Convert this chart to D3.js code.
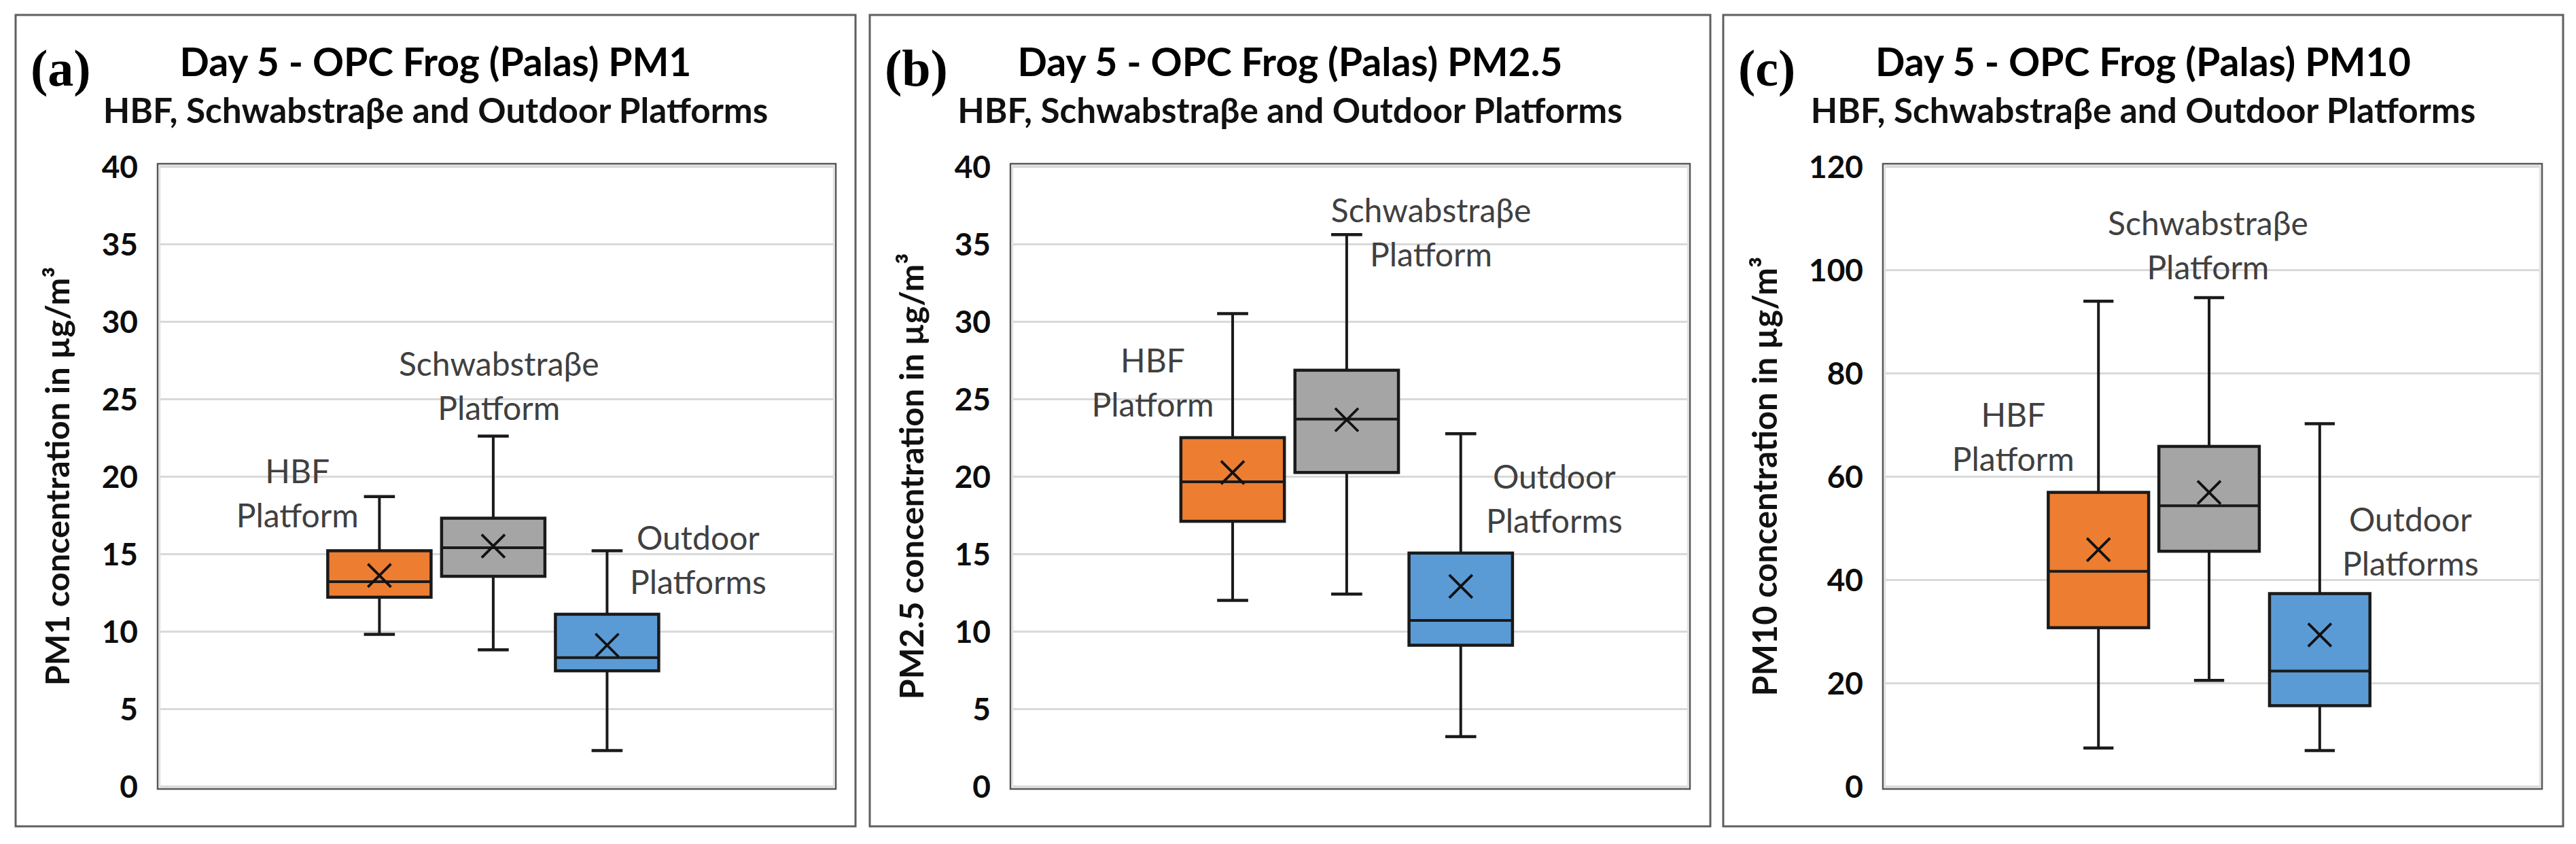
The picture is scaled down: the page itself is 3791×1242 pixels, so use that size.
<!DOCTYPE html>
<html><head><meta charset="utf-8">
<script src="https://cdn.jsdelivr.net/npm/d3@7/dist/d3.min.js"></script>
<style>body{margin:0;background:#fff} svg{display:block}</style>
</head><body>
<svg id="chart" width="3791" height="1242"></svg>
<script>
// ---------- data ----------
const categories = ["HBF Platform", "Schwabstraβe Platform", "Outdoor Platforms"];
const seriesColors = ["#ED7D31", "#A5A5A5", "#5B9BD5"];

const pm1Min    = [9.8, 8.8, 2.3];
const pm1Q1     = [12.2, 13.55, 7.45];
const pm1Median = [13.2, 15.4, 8.3];
const pm1Q3     = [15.2, 17.3, 11.1];
const pm1Max    = [18.7, 22.6, 15.2];
const pm1Mean   = [13.6, 15.5, 9.1];

const pm25Min    = [12.0, 12.4, 3.2];
const pm25Q1     = [17.1, 20.25, 9.1];
const pm25Median = [19.65, 23.7, 10.7];
const pm25Q3     = [22.5, 26.85, 15.05];
const pm25Max    = [30.5, 35.6, 22.75];
const pm25Mean   = [20.25, 23.65, 12.9];

const pm10Min    = [7.4, 20.5, 6.9];
const pm10Q1     = [30.7, 45.5, 15.6];
const pm10Median = [41.6, 54.3, 22.3];
const pm10Q3     = [56.9, 65.8, 37.3];
const pm10Max    = [93.9, 94.6, 70.2];
const pm10Mean   = [45.8, 56.9, 29.3];

const panelLetters = ["(a)", "(b)", "(c)"];
const panelTitles = ["Day 5 - OPC Frog (Palas) PM1", "Day 5 - OPC Frog (Palas) PM2.5", "Day 5 - OPC Frog (Palas) PM10"];
const panelSubtitle = "HBF, Schwabstraβe and Outdoor Platforms";
const yAxisTitles = ["PM1 concentration in µg/m³", "PM2.5 concentration in µg/m³", "PM10 concentration in µg/m³"];
const yTicksPM1  = [0, 5, 10, 15, 20, 25, 30, 35, 40];
const yTicksPM25 = [0, 5, 10, 15, 20, 25, 30, 35, 40];
const yTicksPM10 = [0, 20, 40, 60, 80, 100, 120];
const annotationLines = [["HBF", "Platform"], ["Schwabstraβe", "Platform"], ["Outdoor", "Platforms"]];

// annotation anchors (value of first text baseline, and x offset in band steps)
const pm1LabelValue  = [19.56, 26.5, 15.26];
const pm25LabelValue = [26.7, 36.4, 19.2];
const pm10LabelValue = [69.6, 106.7, 49.3];
const pm1LabelShift  = [-0.72, 0.05, 0.80];
const pm25LabelShift = [-0.70, 0.74, 0.82];
const pm10LabelShift = [-0.77, -0.01, 0.82];

// ---------- layout ----------
const frameY0 = 22, frameY1 = 1216;
const plotY0 = 241, plotY1 = 1161;
const panels = [
  {frame:[23,1259],  plot:[232,1230],  yMax:40,  ticks:yTicksPM1,
   min:pm1Min, q1:pm1Q1, med:pm1Median, q3:pm1Q3, max:pm1Max, mean:pm1Mean,
   lv:pm1LabelValue, ls:pm1LabelShift, titleW:753, yTitleW:617},
  {frame:[1280,2517],plot:[1487,2487], yMax:40,  ticks:yTicksPM25,
   min:pm25Min, q1:pm25Q1, med:pm25Median, q3:pm25Q3, max:pm25Max, mean:pm25Mean,
   lv:pm25LabelValue, ls:pm25LabelShift, titleW:802, yTitleW:657},
  {frame:[2536,3772],plot:[2771,3741], yMax:120, ticks:yTicksPM10,
   min:pm10Min, q1:pm10Q1, med:pm10Median, q3:pm10Q3, max:pm10Max, mean:pm10Mean,
   lv:pm10LabelValue, ls:pm10LabelShift, titleW:788, yTitleW:647}
];

const svg = d3.select("#chart");
const FONT = "Lato, 'Open Sans', 'DejaVu Sans', sans-serif";

function fit(sel, target) {
  const w = sel.node().getComputedTextLength();
  const fs = parseFloat(sel.attr("font-size"));
  if (w > 0) sel.attr("font-size", fs * target / w);
}

panels.forEach((p, pi) => {
  const g = svg.append("g");
  const [fx0, fx1] = p.frame;
  const [px0, px1] = p.plot;
  const cx = (fx0 + fx1) / 2;

  // outer frame
  g.append("rect").attr("x", fx0).attr("y", frameY0)
    .attr("width", fx1 - fx0).attr("height", frameY1 - frameY0)
    .attr("fill", "#fff").attr("stroke", "#5f5f5f").attr("stroke-width", 3);

  // panel letter
  g.append("text").attr("x", fx0 + 22).attr("y", 126)
    .attr("font-family", "'Liberation Serif', 'Times New Roman', serif")
    .attr("font-weight", "bold").attr("font-size", 76).attr("fill", "#000")
    .text(panelLetters[pi]);

  // titles
  const t = g.append("text").attr("x", cx).attr("y", 112).attr("text-anchor", "middle")
    .attr("font-family", FONT).attr("font-weight", "bold").attr("font-size", 54)
    .attr("fill", "#000").text(panelTitles[pi]);
  fit(t, p.titleW);
  const st = g.append("text").attr("x", cx).attr("y", 181).attr("text-anchor", "middle")
    .attr("font-family", FONT).attr("font-weight", "bold").attr("font-size", 44)
    .attr("fill", "#111").text(panelSubtitle);
  fit(st, 979);

  // scales
  const y = d3.scaleLinear().domain([0, p.yMax]).range([plotY1 - 4, plotY0 + 4]);
  const x = d3.scaleBand().domain(categories).range([px0, px1])
    .paddingInner(0.0925).paddingOuter(1.525).align(0.49);

  // plot area border
  g.append("rect").attr("x", px0).attr("y", plotY0).attr("width", px1 - px0)
    .attr("height", plotY1 - plotY0).attr("fill", "#fff")
    .attr("stroke", "#555").attr("stroke-width", 2.5);
  g.append("rect").attr("x", px0 + 3).attr("y", plotY0 + 3).attr("width", px1 - px0 - 6)
    .attr("height", plotY1 - plotY0 - 6).attr("fill", "none")
    .attr("stroke", "#e2e2e2").attr("stroke-width", 2.5);

  // gridlines
  const grid = g.append("g").attr("transform", `translate(${px0 + 4},0)`)
    .call(d3.axisLeft(y).tickValues(p.ticks).tickSize(-(px1 - px0 - 8)).tickFormat(""));
  grid.select(".domain").remove();
  grid.selectAll("line").attr("stroke", "#d9d9d9").attr("stroke-width", 3);

  // y axis labels
  const ax = g.append("g").attr("transform", `translate(${px0 - 29},0)`)
    .call(d3.axisLeft(y).tickValues(p.ticks).tickSize(0).tickPadding(0));
  ax.select(".domain").remove();
  ax.selectAll("text").attr("font-family", FONT).attr("font-weight", "bold")
    .attr("font-size", 46).attr("fill", "#0d0d0d").attr("dy", "0.36em");

  // y axis title
  const yt = g.append("text")
    .attr("transform", `translate(${fx0 + 79},${(plotY0 + plotY1) / 2}) rotate(-90)`)
    .attr("text-anchor", "middle").attr("font-family", FONT).attr("font-weight", "bold")
    .attr("font-size", 44).attr("fill", "#111").text(yAxisTitles[pi]);
  fit(yt, p.yTitleW);

  // boxes
  const bw = x.bandwidth();
  const capW = bw * 0.3;
  const xh = 17;
  categories.forEach((c, i) => {
    const xc = x(c) + bw / 2;
    const bg = g.append("g");
    bg.append("line").attr("x1", xc).attr("x2", xc)
      .attr("y1", y(p.max[i])).attr("y2", y(p.min[i]))
      .attr("stroke", "#1a1a1a").attr("stroke-width", 4);
    [p.max[i], p.min[i]].forEach(v => {
      bg.append("line").attr("x1", xc - capW / 2).attr("x2", xc + capW / 2)
        .attr("y1", y(v)).attr("y2", y(v))
        .attr("stroke", "#1a1a1a").attr("stroke-width", 4.5);
    });
    bg.append("rect").attr("x", x(c)).attr("width", bw)
      .attr("y", y(p.q3[i])).attr("height", y(p.q1[i]) - y(p.q3[i]))
      .attr("fill", seriesColors[i]).attr("stroke", "#1a1a1a").attr("stroke-width", 4.5);
    bg.append("line").attr("x1", x(c)).attr("x2", x(c) + bw)
      .attr("y1", y(p.med[i])).attr("y2", y(p.med[i]))
      .attr("stroke", "#1a1a1a").attr("stroke-width", 4);
    const my = y(p.mean[i]);
    bg.append("path")
      .attr("d", `M${xc - xh},${my - xh}L${xc + xh},${my + xh}M${xc - xh},${my + xh}L${xc + xh},${my - xh}`)
      .attr("stroke", "#111").attr("stroke-width", 3.8).attr("fill", "none");

    // annotation
    const step = x.step();
    const ann = g.append("text").attr("text-anchor", "middle")
      .attr("font-family", FONT).attr("font-size", 48).attr("fill", "#404040")
      .attr("x", xc + p.ls[i] * step).attr("y", y(p.lv[i]));
    annotationLines[i].forEach((line, li) => {
      ann.append("tspan").attr("x", xc + p.ls[i] * step)
        .attr("dy", li === 0 ? 0 : 65).text(line);
    });
  });
});
</script>
</body></html>
